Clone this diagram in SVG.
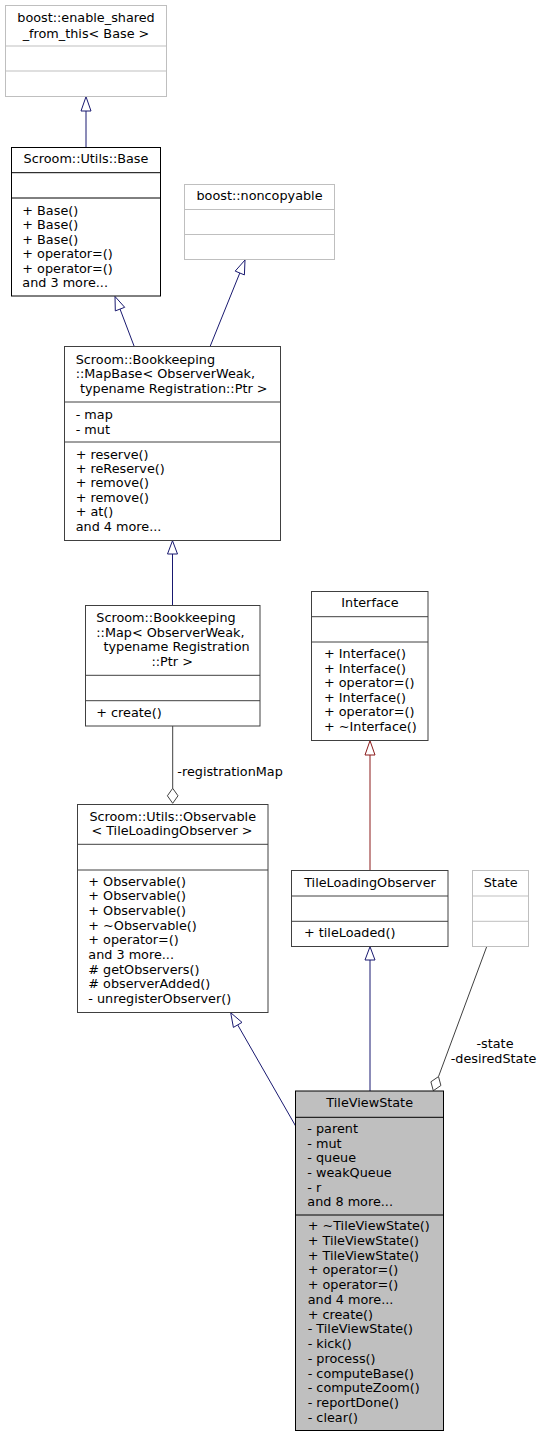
<svg xmlns="http://www.w3.org/2000/svg" width="543" height="1437" viewBox="0 0 543 1437">
<style>
text{font-family:"DejaVu Sans",sans-serif;font-size:12.8px;fill:#000}
.m{text-anchor:middle}
.n rect{fill:#fff;stroke:#404040;stroke-width:1}
.n line{stroke:#404040;stroke-width:1}
.g rect{fill:#fff;stroke:#bfbfbf}
.g line{stroke:#bfbfbf}
.k rect{stroke:#000}
.k line{stroke:#000}
.e{fill:none;stroke:#191970;stroke-width:1}
.eh{fill:#fff;stroke:#191970;stroke-width:1}
.r{fill:none;stroke:#8b1a1a}
.rh{fill:#fff;stroke:#8b1a1a}
.u{fill:none;stroke:#404040}
.uh{fill:#fff;stroke:#404040}
</style>
<rect width="543" height="1437" fill="#fff"/>
<g id="connectors">
<path class="e" d="M86,147V111"/>
<polygon class="eh" points="86,96.7 91,111 81,111"/>
<path class="e" d="M134.3,346.7L120,309"/>
<polygon class="eh" points="115,296.5 124.7,307.3 115.3,310.9"/>
<path class="e" d="M210,346.7L239.8,273"/>
<polygon class="eh" points="245,260 244.4,274.9 235.2,271.1"/>
<path class="e" d="M172.5,605.7V554"/>
<polygon class="eh" points="172.5,540.7 177.5,554 167.5,554"/>
<path class="u" d="M172.7,726V788.3"/>
<polygon class="uh" points="172.7,803.3 178,795.8 172.7,788.3 167.4,795.8"/>
<text x="177.3" y="776">-registrationMap</text>
<path class="r" d="M370,870.7V755"/>
<polygon class="rh" points="370,740.7 375,755 365,755"/>
<path class="e" d="M370,1091V960"/>
<polygon class="eh" points="370,946.7 375,960 365,960"/>
<path class="e" d="M296,1126.7L237.7,1024.9"/>
<polygon class="eh" points="230.7,1012.7 242,1022.4 233.4,1027.4"/>
<path class="u" d="M486.7,946.7L438.5,1076.6"/>
<polygon class="uh" points="433.3,1090.7 440.9,1085.5 438.5,1076.6 430.9,1081.8"/>
<text class="m" x="495" y="1047.8">-state</text>
<text class="m" x="493.5" y="1062.8">-desiredState</text>
</g>
<g id="node_enable_shared" class="n g">
<rect x="5.5" y="5.5" width="161" height="91"/>
<line x1="5.5" y1="46" x2="166.5" y2="46"/>
<line x1="5.5" y1="71" x2="166.5" y2="71"/>
<text class="m" x="86" y="21.5">boost::enable_shared</text>
<text class="m" x="86" y="37.5">_from_this&lt; Base &gt;</text>
</g>
<g id="node_base" class="n k">
<rect x="11.5" y="147.5" width="149" height="148.5"/>
<line x1="11.5" y1="172.7" x2="160.5" y2="172.7"/>
<line x1="11.5" y1="198" x2="160.5" y2="198"/>
<text class="m" x="86" y="162.5">Scroom::Utils::Base</text>
<text x="22.3" y="214.5">+ Base()</text>
<text x="22.3" y="229">+ Base()</text>
<text x="22.3" y="243.5">+ Base()</text>
<text x="22.3" y="258">+ operator=()</text>
<text x="22.3" y="272.5">+ operator=()</text>
<text x="22.3" y="287">and 3 more...</text>
</g>
<g id="node_noncopyable" class="n g">
<rect x="184.5" y="184.5" width="150" height="75"/>
<line x1="184.5" y1="209.5" x2="334.5" y2="209.5"/>
<line x1="184.5" y1="234.5" x2="334.5" y2="234.5"/>
<text class="m" x="259.5" y="199.8">boost::noncopyable</text>
</g>
<g id="node_mapbase" class="n">
<rect x="64.5" y="346.5" width="216" height="194"/>
<line x1="64.5" y1="402" x2="280.5" y2="402"/>
<line x1="64.5" y1="442" x2="280.5" y2="442"/>
<text x="75.7" y="363.5">Scroom::Bookkeeping</text>
<text x="75.7" y="378">::MapBase&lt; ObserverWeak,</text>
<text class="m" x="173.7" y="393">typename Registration::Ptr &gt;</text>
<text x="75.7" y="418.8">- map</text>
<text x="75.7" y="433.5">- mut</text>
<text x="75.7" y="458.5">+ reserve()</text>
<text x="75.7" y="472.9">+ reReserve()</text>
<text x="75.7" y="487.3">+ remove()</text>
<text x="75.7" y="501.7">+ remove()</text>
<text x="75.7" y="516.1">+ at()</text>
<text x="75.7" y="530.5">and 4 more...</text>
</g>
<g id="node_map" class="n">
<rect x="85.5" y="605.5" width="174.5" height="120.5"/>
<line x1="85.5" y1="675.3" x2="260" y2="675.3"/>
<line x1="85.5" y1="700.7" x2="260" y2="700.7"/>
<text x="96.3" y="622.2">Scroom::Bookkeeping</text>
<text x="96.3" y="636.8">::Map&lt; ObserverWeak,</text>
<text x="103.5" y="651.2">typename Registration</text>
<text class="m" x="172.2" y="665.5">::Ptr &gt;</text>
<text x="96.3" y="717.2">+ create()</text>
</g>
<g id="node_interface" class="n">
<rect x="311.5" y="591.5" width="116.5" height="149"/>
<line x1="311.5" y1="616.7" x2="428" y2="616.7"/>
<line x1="311.5" y1="642" x2="428" y2="642"/>
<text class="m" x="370" y="607.2">Interface</text>
<text x="324" y="657.8">+ Interface()</text>
<text x="324" y="672.5">+ Interface()</text>
<text x="324" y="687.1">+ operator=()</text>
<text x="324" y="701.8">+ Interface()</text>
<text x="324" y="716.4">+ operator=()</text>
<text x="324" y="731.1">+ ~Interface()</text>
</g>
<g id="node_observable" class="n">
<rect x="77.5" y="804.5" width="190.5" height="208"/>
<line x1="77.5" y1="844.3" x2="268" y2="844.3"/>
<line x1="77.5" y1="870" x2="268" y2="870"/>
<text class="m" x="172.7" y="821.2">Scroom::Utils::Observable</text>
<text class="m" x="172" y="835.2">&lt; TileLoadingObserver &gt;</text>
<text x="88.3" y="885.5">+ Observable()</text>
<text x="88.3" y="900.2">+ Observable()</text>
<text x="88.3" y="914.9">+ Observable()</text>
<text x="88.3" y="929.6">+ ~Observable()</text>
<text x="88.3" y="944.3">+ operator=()</text>
<text x="88.3" y="959">and 3 more...</text>
<text x="88.3" y="973.7">#  getObservers()</text>
<text x="88.3" y="988.4">#  observerAdded()</text>
<text x="88.3" y="1003.1">- unregisterObserver()</text>
</g>
<g id="node_tileloadingobserver" class="n">
<rect x="291.5" y="870.5" width="156.5" height="76"/>
<line x1="291.5" y1="896" x2="448" y2="896"/>
<line x1="291.5" y1="921.3" x2="448" y2="921.3"/>
<text class="m" x="370" y="886.8">TileLoadingObserver</text>
<text x="304" y="937.2">+ tileLoaded()</text>
</g>
<g id="node_state" class="n g">
<rect x="472.5" y="870.5" width="56" height="76"/>
<line x1="472.5" y1="896" x2="528.5" y2="896"/>
<line x1="472.5" y1="921.3" x2="528.5" y2="921.3"/>
<text class="m" x="500.7" y="886.8">State</text>
</g>
<g id="node_tileviewstate" class="n k">
<rect x="295.5" y="1091" width="148" height="339.5" style="fill:#bfbfbf"/>
<line x1="295.5" y1="1117.3" x2="443.5" y2="1117.3"/>
<line x1="295.5" y1="1215" x2="443.5" y2="1215"/>
<text class="m" x="369.7" y="1106.8">TileViewState</text>
<text x="307.3" y="1133.2">- parent</text>
<text x="307.3" y="1147.8">- mut</text>
<text x="307.3" y="1162.4">- queue</text>
<text x="307.3" y="1177">- weakQueue</text>
<text x="307.3" y="1191.6">- r</text>
<text x="307.3" y="1206.2">and 8 more...</text>
<text x="307.7" y="1230.2">+ ~TileViewState()</text>
<text x="307.7" y="1244.9">+ TileViewState()</text>
<text x="307.7" y="1259.7">+ TileViewState()</text>
<text x="307.7" y="1274.4">+ operator=()</text>
<text x="307.7" y="1289.2">+ operator=()</text>
<text x="307.7" y="1303.9">and 4 more...</text>
<text x="307.7" y="1318.6">+ create()</text>
<text x="307.7" y="1333.4">- TileViewState()</text>
<text x="307.7" y="1348.1">- kick()</text>
<text x="307.7" y="1362.9">- process()</text>
<text x="307.7" y="1377.6">- computeBase()</text>
<text x="307.7" y="1392.3">- computeZoom()</text>
<text x="307.7" y="1407.1">- reportDone()</text>
<text x="307.7" y="1421.8">- clear()</text>
</g>
</svg>
